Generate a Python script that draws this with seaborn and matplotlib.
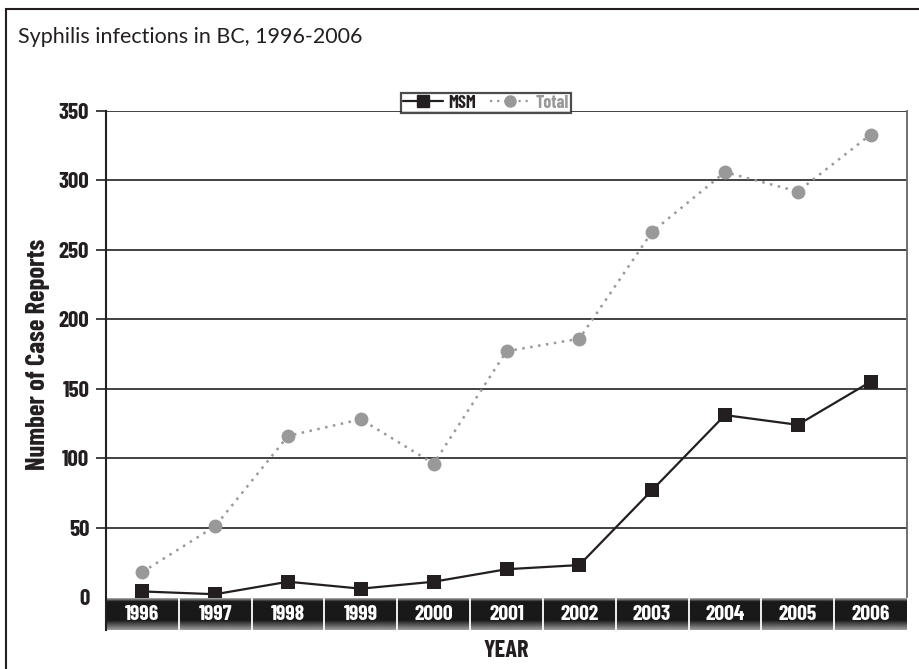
import numpy as np
import pandas as pd
import matplotlib
matplotlib.use('Agg')
import matplotlib.pyplot as plt
import matplotlib.patches as mpatches
from matplotlib.lines import Line2D
import seaborn as sns

years = [1996, 1997, 1998, 1999, 2000, 2001, 2002, 2003, 2004, 2005, 2006]
msm = [4, 2, 11, 6, 11, 20, 23, 77, 131, 124, 155]
total = [18, 51, 116, 128, 96, 177, 186, 263, 306, 292, 333]
y_ticks = [0, 50, 100, 150, 200, 250, 300, 350]

sns.set_theme(style='white')
narrow = ['Barlow Condensed', 'DejaVu Sans']
plt.rcParams['font.family'] = narrow
plt.rcParams['font.weight'] = 'bold'

df = pd.DataFrame({'year': years, 'MSM': msm, 'Total': total})

fig = plt.figure(figsize=(9.2, 6.69), dpi=100)
ax = fig.add_axes([106 / 920, 1 - 597 / 669, 801 / 920, 486 / 669])

# grid lines first so the series sit on top
for v in y_ticks[1:]:
    ax.axhline(v, color='#333333', lw=1.3, zorder=1)

sns.lineplot(data=df, x='year', y='Total', ax=ax, color='#999999', lw=1.8,
             linestyle=(0, (1, 2.2)), marker='o', markersize=10,
             markeredgewidth=0, zorder=3)
sns.lineplot(data=df, x='year', y='MSM', ax=ax, color='#231f20', lw=1.6,
             marker='s', markersize=10, markeredgewidth=0, zorder=4)

ax.set_xlim(1995.5, 2006.5)
ax.set_ylim(0, 350)
ax.set_xticks([])
ax.set_yticks(y_ticks)
ax.set_yticklabels([str(v) for v in y_ticks], fontsize=16.5, fontweight='bold',
                   color='#231f20')
ax.tick_params(axis='y', left=True, length=7, width=1.2, color='#231f20', pad=5)
ax.yaxis.get_major_ticks()[0].tick1line.set_visible(False)
ax.set_xlabel('')
ax.set_ylabel('Number of Case Reports', fontsize=19, fontweight='bold',
              color='#231f20')
ax.yaxis.set_label_coords(-0.07, 0.5)
for side in ['top', 'bottom']:
    ax.spines[side].set_visible(False)
ax.spines['left'].set_color('#231f20')
ax.spines['left'].set_linewidth(1.5)
ax.spines['right'].set_color('#666666')
ax.spines['right'].set_linewidth(1.3)

# dark band holding the year labels
band = fig.add_axes([106 / 920, 1 - 630 / 669, 801 / 920, 32 / 669], sharex=ax)
grad = np.concatenate([np.linspace(0.8, 0.25, 4), np.full(18, 0.1),
                       np.linspace(0.1, 0.6, 10)])[:, None]
band.imshow(grad, cmap='gray', vmin=0, vmax=1, aspect='auto',
            extent=[1995.5, 2006.5, 0, 1], interpolation='bilinear')
for yr in years[:-1]:
    band.axvline(yr + 0.5, color='white', lw=1.3)
for yr in years:
    band.text(yr, 0.47, str(yr), color='white', ha='center', va='center',
              fontsize=15.5, fontweight='bold')
band.set_xlim(1995.5, 2006.5)
band.set_ylim(0, 1)
band.set_xticks([])
band.set_yticks([])
for s in band.spines.values():
    s.set_visible(False)
band.spines['left'].set_visible(True)
band.spines['left'].set_color('#231f20')
band.spines['left'].set_linewidth(1.5)

fig.text(506 / 920, 1 - 651 / 669, 'YEAR', ha='center', va='center',
         fontsize=17.5, fontweight='bold', color='#231f20')

fig.text(18 / 920, 1 - 37 / 669, 'Syphilis infections in BC, 1996-2006',
         ha='left', va='center', fontsize=15.5, fontweight='normal',
         family=['Lato', 'DejaVu Sans'], color='#231f20')

handles = [Line2D([], [], color='#231f20', lw=1.6, marker='s', markersize=9),
           Line2D([], [], color='#999999', lw=1.6, linestyle=(0, (1, 2.2)),
                  marker='o', markersize=9, markeredgewidth=0)]
leg = fig.legend(handles, ['MSM', 'Total'], loc='center',
                 bbox_to_anchor=(486 / 920, 1 - 103 / 669), ncol=2,
                 frameon=True, fancybox=False, handlelength=2.2,
                 handletextpad=0.3, columnspacing=0.8, borderpad=0.1,
                 prop={'weight': 'bold', 'size': 13})
leg.get_frame().set_edgecolor('#231f20')
leg.get_frame().set_linewidth(1.6)
leg.get_texts()[0].set_color('#231f20')
leg.get_texts()[1].set_color('#999999')

# outer frame, cut by the right and bottom image edges
fig.patches.append(mpatches.Rectangle((6 / 920, -0.05), 1.1, 1.05 - 9 / 669,
                                      transform=fig.transFigure, fill=False,
                                      edgecolor='#231f20', lw=1.5))

fig.savefig('out.png', dpi=100)
